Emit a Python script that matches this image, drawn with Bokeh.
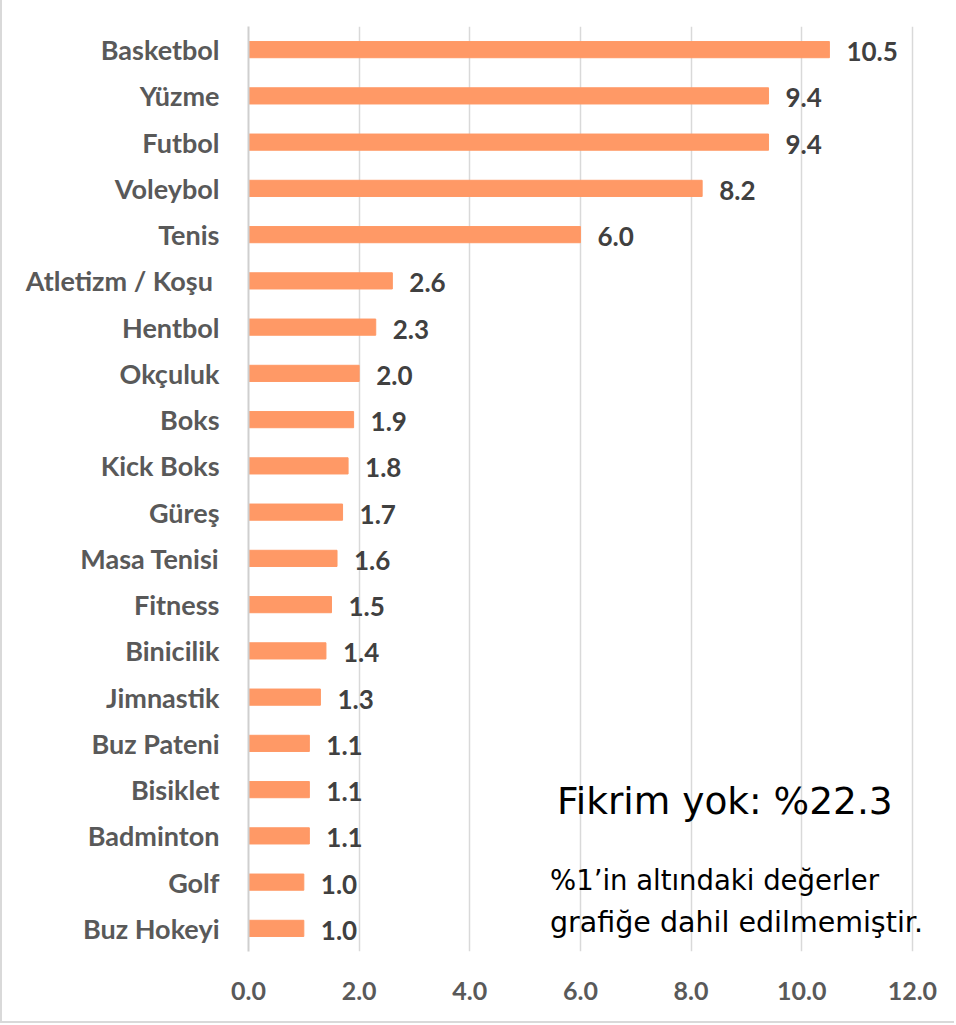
from bokeh.plotting import figure
from bokeh.models import ColumnDataSource, FactorRange, Range1d, FixedTicker, PrintfTickFormatter, Label
from bokeh.core.properties import value
from bokeh.embed import file_html
from bokeh.resources import INLINE

categories = ["Basketbol", "Yüzme", "Futbol", "Voleybol", "Tenis", "Atletizm  / Koşu",
              "Hentbol", "Okçuluk", "Boks", "Kick Boks", "Güreş", "Masa Tenisi",
              "Fitness", "Binicilik", "Jimnastik", "Buz Pateni", "Bisiklet",
              "Badminton", "Golf", "Buz Hokeyi"]
values = [10.5, 9.4, 9.4, 8.2, 6.0, 2.6, 2.3, 2.0, 1.9, 1.8, 1.7, 1.6, 1.5, 1.4, 1.3,
          1.1, 1.1, 1.1, 1.0, 1.0]
x_ticks = [0, 2, 4, 6, 8, 10, 12]

note_main = "Fikrim yok: %22.3"
note_line1 = "%1’in altındaki değerler"
note_line2 = "grafiğe dahil edilmemiştir."

src = ColumnDataSource(dict(cats=categories, vals=values,
                            labels=[f"{v:.1f}" for v in values]))

p = figure(width=954, height=1023, output_backend="svg", toolbar_location=None,
           y_range=FactorRange(factors=list(reversed(categories))),
           x_range=Range1d(0, 12.4),
           min_border_left=246, min_border_right=22, min_border_top=26, min_border_bottom=72)
p.styles = {"border-left": "2px solid #d9d9d9", "border-bottom": "2px solid #d9d9d9"}

p.hbar(y="cats", right="vals", left=0, height=0.35, color="#FF9966", source=src)
p.text(x="vals", y="cats", text="labels", source=src, x_offset=17, y_offset=2,
       text_baseline="middle", text_align="left", text_font=value("Lato"),
       text_font_style="bold", text_font_size="26px", text_color="#404040")

p.outline_line_color = None
p.ygrid.grid_line_color = None
p.xgrid.grid_line_color = "#d9d9d9"
p.xgrid.grid_line_width = 1.5
p.xaxis.ticker = FixedTicker(ticks=x_ticks)
p.xgrid.ticker = FixedTicker(ticks=x_ticks)
p.xaxis.formatter = PrintfTickFormatter(format="%.1f")
p.xaxis.axis_line_color = None
p.xaxis.major_tick_line_color = None
p.xaxis.minor_tick_line_color = None
p.xaxis.major_tick_out = 0
p.xaxis.major_tick_in = 0
p.xaxis.major_label_standoff = 30
p.xaxis.major_label_text_font = "Lato"
p.xaxis.major_label_text_font_style = "bold"
p.xaxis.major_label_text_font_size = "25px"
p.xaxis.major_label_text_color = "#595959"

p.yaxis.axis_line_color = "#cfcfcf"
p.yaxis.axis_line_width = 2
p.yaxis.major_tick_line_color = None
p.yaxis.minor_tick_line_color = None
p.yaxis.major_tick_out = 0
p.yaxis.major_tick_in = 0
p.yaxis.major_label_standoff = 29
p.yaxis.major_label_text_font = "Lato"
p.yaxis.major_label_text_font_style = "bold"
p.yaxis.major_label_text_font_size = "27px"
p.yaxis.major_label_text_color = "#595959"

p.add_layout(Label(x=5.575, y=3.25, text=note_main, text_font="DejaVu Sans",
                   text_font_size="37.5px", text_color="#000000", text_baseline="alphabetic"))
p.add_layout(Label(x=5.45, y=1.54, text=note_line1, text_font="DejaVu Sans",
                   text_font_size="27.5px", text_color="#000000", text_baseline="alphabetic"))
p.add_layout(Label(x=5.45, y=0.63, text=note_line2, text_font="DejaVu Sans",
                   text_font_size="28.5px", text_color="#000000", text_baseline="alphabetic"))

open("out.html", "w").write(file_html(p, INLINE))
